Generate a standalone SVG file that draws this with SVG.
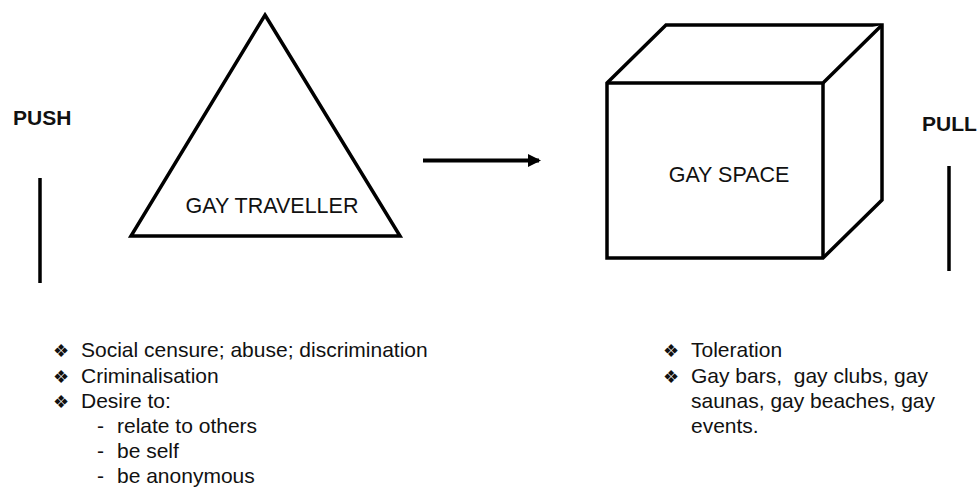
<svg xmlns="http://www.w3.org/2000/svg" width="977" height="489" viewBox="0 0 977 489">
<style>
text{font-family:"Liberation Sans",Arial,sans-serif;fill:#111}
.lbl{font-size:21px;font-weight:bold}
.nd{font-size:21.5px}
.b{font-size:21px}
.bul{font-size:18px}
.shape{fill:#fff;stroke:#000;stroke-width:3.5;stroke-linejoin:miter}
.bar{stroke:#000;stroke-width:3.5}
</style>
<defs>
<marker id="ah" markerWidth="13" markerHeight="13" refX="11" refY="6.5" orient="auto" markerUnits="userSpaceOnUse">
<path d="M0,0 L13,6.5 L0,13 z" fill="#000"/>
</marker>
</defs>
<rect width="977" height="489" fill="#fff"/>
<g id="push">
<text class="lbl" x="13" y="125">PUSH</text>
<line class="bar" x1="40" y1="178" x2="40" y2="283"/>
</g>
<g id="pull">
<text class="lbl" x="922" y="131">PULL</text>
<line class="bar" x1="949" y1="166" x2="949" y2="271"/>
</g>
<g id="gay-traveller">
<polygon class="shape" points="265,15 400,236 131,236"/>
<text class="nd" x="272" y="213" text-anchor="middle">GAY TRAVELLER</text>
</g>
<g id="gay-space">
<polygon class="shape" points="607,83 666,25 882,25 882,200 823,258 607,258"/>
<polyline class="shape" fill="none" points="607,83 823,83 882,25"/>
<line class="shape" x1="823" y1="83" x2="823" y2="258"/>
<text class="nd" x="729" y="182" text-anchor="middle">GAY SPACE</text>
</g>
<g id="connectors">
<line x1="423" y1="160.5" x2="539" y2="160.5" stroke="#000" stroke-width="4" marker-end="url(#ah)"/>
</g>
<g id="push-list">
<text class="bul" x="53" y="357">❖</text><text class="b" x="81" y="357">Social censure; abuse; discrimination</text>
<text class="bul" x="53" y="383">❖</text><text class="b" x="81" y="383">Criminalisation</text>
<text class="bul" x="53" y="408">❖</text><text class="b" x="81" y="408">Desire to:</text>
<text class="b" x="97" y="433">-</text><text class="b" x="117" y="433">relate to others</text>
<text class="b" x="97" y="458">-</text><text class="b" x="117" y="458">be self</text>
<text class="b" x="97" y="483">-</text><text class="b" x="117" y="483">be anonymous</text>
</g>
<g id="pull-list">
<text class="bul" x="663" y="357">❖</text><text class="b" x="691" y="357">Toleration</text>
<text class="bul" x="663" y="383">❖</text><text class="b" x="691" y="383" xml:space="preserve">Gay bars,  gay clubs, gay</text>
<text class="b" x="691" y="408">saunas, gay beaches, gay</text>
<text class="b" x="691" y="433">events.</text>
</g>
</svg>
